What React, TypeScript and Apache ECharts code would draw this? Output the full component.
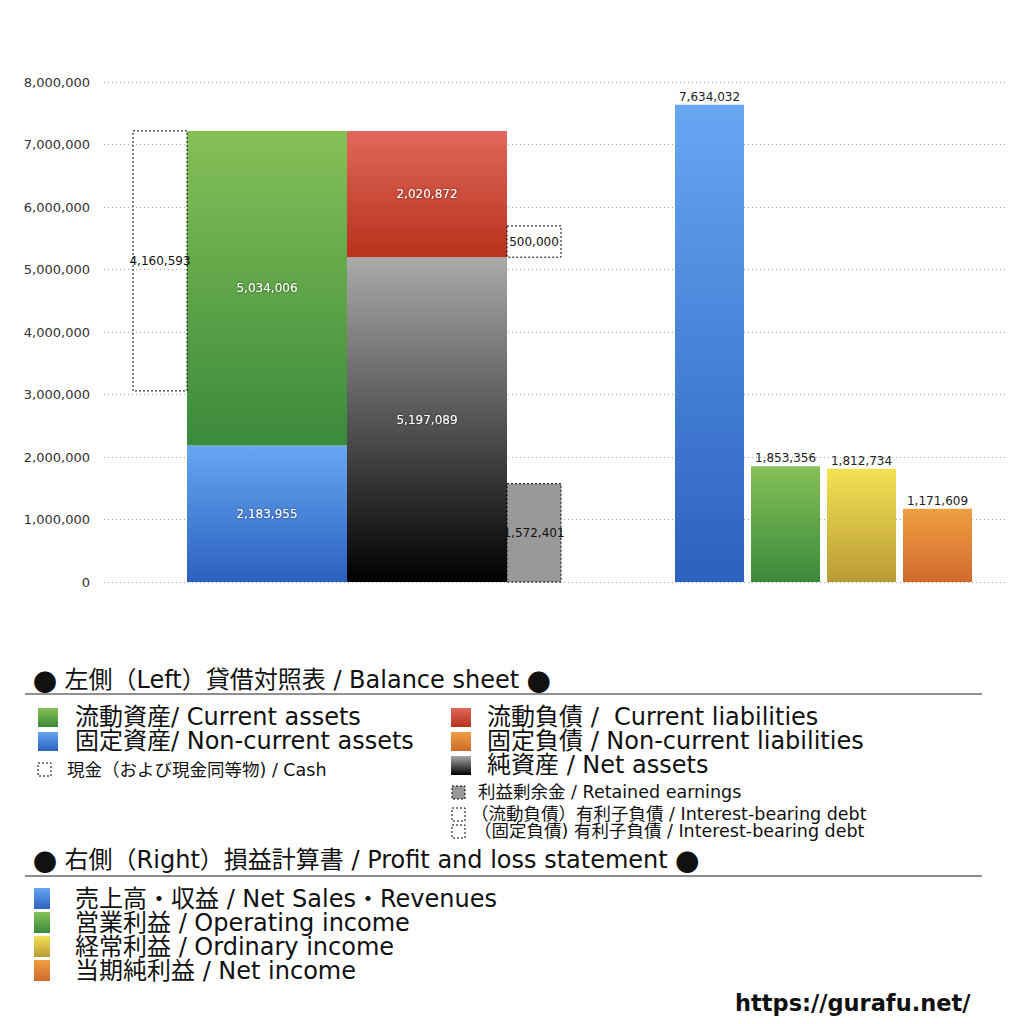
import * as echarts from 'echarts';
import { useEffect, useRef } from 'react';

// balance sheet (left)
const currentAssets = 5034006;
const nonCurrentAssets = 2183955;
const cash = 4160593;
const currentLiabilities = 2020872;
const netAssets = 5197089;
const currentInterestDebt = 500000;
const retainedEarnings = 1572401;

// profit and loss (right)
const plNames = ['売上高・収益', '営業利益', '経常利益', '当期純利益'];
const plValues = [7634032, 1853356, 1812734, 1171609];

const yTicks = [0, 1000000, 2000000, 3000000, 4000000, 5000000, 6000000, 7000000, 8000000];

const bsTitle = '● 左側（Left）貸借対照表 / Balance sheet ●';
const plTitle = '● 右側（Right）損益計算書 / Profit and loss statement ●';
const bsLegendLeft = ['流動資産/ Current assets', '固定資産/ Non-current assets'];
const bsLegendRight = ['流動負債 /  Current liabilities', '固定負債 / Non-current liabilities', '純資産 / Net assets'];
const bsLegendSmallLeft = ['現金（および現金同等物) / Cash'];
const bsLegendSmallRight = ['利益剰余金 / Retained earnings', '（流動負債）有利子負債 / Interest-bearing debt', '（固定負債) 有利子負債 / Interest-bearing debt'];
const plLegend = ['売上高・収益 / Net Sales・Revenues', '営業利益 / Operating income', '経常利益 / Ordinary income', '当期純利益 / Net income'];

const WIDE = '"DejaVu Sans", "Noto Sans CJK JP", sans-serif';
const CJK = '"Noto Sans CJK JP", sans-serif';

const grad = (top: string, bottom: string) =>
    new echarts.graphic.LinearGradient(0, 0, 0, 1, [
        { offset: 0, color: top },
        { offset: 1, color: bottom }
    ]);

const GREEN = ['#86c057', '#3a8a3b'];
const BLUE = ['#68a6f2', '#2b61bf'];
const RED = ['#e0685b', '#b7321b'];
const BLACK = ['#a9aaa9', '#000000'];
const ORANGE = ['#eea041', '#d2692d'];
const YELLOW = ['#f6e153', '#b89b36'];

const App = () => {
    const divRef = useRef<HTMLDivElement>(null);

    useEffect(() => {
        const chart = echarts.init(divRef.current!, null, { renderer: 'svg' });

        const totalAssets = currentAssets + nonCurrentAssets;
        // slots along a hidden x axis (grid units)
        const slot = {
            cash: [29, 83],
            assets: [83, 243],
            liab: [243, 403],
            side: [403, 457],
            pl: [[571, 640], [647, 716], [723, 792], [799, 868]]
        };

        type Mark = {
            x: number[]; y0: number; y1: number; value: number;
            fill: any; dashed?: boolean; labelColor: string; labelPos: string; shadow?: boolean;
        };
        const marks: Mark[] = [
            { x: slot.assets, y0: 0, y1: nonCurrentAssets, value: nonCurrentAssets, fill: grad(BLUE[0], BLUE[1]), labelColor: '#fff', labelPos: 'inside', shadow: true },
            { x: slot.assets, y0: nonCurrentAssets, y1: totalAssets, value: currentAssets, fill: grad(GREEN[0], GREEN[1]), labelColor: '#fff', labelPos: 'inside', shadow: true },
            { x: slot.cash, y0: totalAssets - cash, y1: totalAssets, value: cash, fill: 'rgba(255,255,255,0)', dashed: true, labelColor: '#111', labelPos: 'inside' },
            { x: slot.liab, y0: 0, y1: netAssets, value: netAssets, fill: grad(BLACK[0], BLACK[1]), labelColor: '#fff', labelPos: 'inside', shadow: true },
            { x: slot.liab, y0: netAssets, y1: netAssets + currentLiabilities, value: currentLiabilities, fill: grad(RED[0], RED[1]), labelColor: '#fff', labelPos: 'inside', shadow: true },
            { x: slot.side, y0: netAssets, y1: netAssets + currentInterestDebt, value: currentInterestDebt, fill: 'rgba(255,255,255,0)', dashed: true, labelColor: '#111', labelPos: 'inside' },
            { x: slot.side, y0: 0, y1: retainedEarnings, value: retainedEarnings, fill: '#999999', dashed: true, labelColor: '#111', labelPos: 'inside' }
        ];
        const plColors = [BLUE, GREEN, YELLOW, ORANGE];
        plValues.forEach((v, i) => {
            marks.push({ x: slot.pl[i], y0: 0, y1: v, value: v, fill: grad(plColors[i][0], plColors[i][1]), labelColor: '#222', labelPos: 'top' });
        });

        const graphics: any[] = [];
        const text = (x: number, y: number, t: string, size: number, lh: number, extra: any = {}) =>
            graphics.push({
                type: 'text', x, y,
                style: { text: t, fontSize: size, lineHeight: lh, fontFamily: WIDE, fill: '#111', verticalAlign: 'middle', ...extra }
            });
        const title = (x: number, y: number, t: string) =>
            text(x, y, t.split('●').join('{c|●}'), 24, 22, {
                rich: { c: { fontFamily: CJK, fontSize: 24, lineHeight: 22 } }
            });
        const box = (x: number, y: number, w: number, h: number, fill: any, dashed = false) =>
            graphics.push({
                type: 'rect', shape: { x, y, width: w, height: h },
                style: { fill, stroke: dashed ? '#000' : null, lineWidth: dashed ? 1 : 0, lineDash: dashed ? [2, 2] : null }
            });

        // balance sheet legend
        title(33, 680, bsTitle);
        graphics.push({ type: 'line', shape: { x1: 25, y1: 694, x2: 982, y2: 694 }, style: { stroke: '#222', lineWidth: 1 } });
        const bigLeft = [GREEN, BLUE];
        bsLegendLeft.forEach((t, i) => {
            box(38, 708 + i * 24, 20, 19, grad(bigLeft[i][0], bigLeft[i][1]));
            text(75, 717 + i * 24, t, 24, 22);
        });
        box(38, 763, 13, 13, 'rgba(255,255,255,0)', true);
        text(67, 770, bsLegendSmallLeft[0], 17.5, 16);
        const bigRight = [RED, ORANGE, BLACK];
        bsLegendRight.forEach((t, i) => {
            box(451, 708 + i * 24, 20, 19, grad(bigRight[i][0], bigRight[i][1]));
            text(487, 717 + i * 24, t, 24, 22);
        });
        box(452, 786, 13, 13, '#999999', true);
        text(478, 792, bsLegendSmallRight[0], 17.5, 16);
        box(452, 808, 13, 13, 'rgba(255,255,255,0)', true);
        text(471, 814, bsLegendSmallRight[1], 17.5, 16);
        box(452, 825, 13, 13, 'rgba(255,255,255,0)', true);
        text(474, 831, bsLegendSmallRight[2], 17.5, 16);

        // profit and loss legend
        title(33, 860, plTitle);
        graphics.push({ type: 'line', shape: { x1: 25, y1: 876, x2: 982, y2: 876 }, style: { stroke: '#666', lineWidth: 1.5 } });
        plLegend.forEach((t, i) => {
            box(34, 888 + i * 24, 16, 21, grad(plColors[i][0], plColors[i][1]));
            text(75, 899 + i * 24, t, 24, 22);
        });

        text(735, 1003, 'https://gurafu.net/', 22.5, 22, { fontWeight: 'bold', fontFamily: '"DejaVu Sans", sans-serif' });

        chart.setOption({
            animation: false,
            grid: { left: 104, right: 16, top: 82, bottom: 442 },
            xAxis: { type: 'value', min: 0, max: 904, show: false },
            yAxis: {
                type: 'value', min: yTicks[0], max: yTicks[yTicks.length - 1], interval: yTicks[1] - yTicks[0],
                axisLine: { show: false }, axisTick: { show: false },
                axisLabel: {
                    margin: 14, color: '#333', fontSize: 13, fontFamily: WIDE,
                    formatter: (v: number) => v.toLocaleString('en-US')
                },
                splitLine: { lineStyle: { type: [1, 3], color: '#aaa', width: 1 } }
            },
            series: [{
                type: 'custom',
                name: plNames.join(','),
                encode: { x: [0, 1], y: [2, 3] },
                data: marks.map(m => [m.x[0], m.x[1], m.y0, m.y1, m.value]),
                renderItem: (params: any, api: any) => {
                    const m = marks[params.dataIndex];
                    const p0 = api.coord([api.value(0), api.value(3)]);
                    const p1 = api.coord([api.value(1), api.value(2)]);
                    return {
                        type: 'rect',
                        shape: { x: p0[0], y: p0[1], width: p1[0] - p0[0], height: p1[1] - p0[1] },
                        style: {
                            fill: m.fill,
                            stroke: m.dashed ? '#000' : null,
                            lineWidth: m.dashed ? 1 : 0,
                            lineDash: m.dashed ? [2, 2] : null
                        },
                        textContent: {
                            style: {
                                text: m.value.toLocaleString('en-US'),
                                fill: m.labelColor, fontSize: 12, fontFamily: WIDE,
                                textShadowColor: m.shadow ? 'rgba(0,0,0,0.6)' : 'transparent',
                                textShadowBlur: m.shadow ? 2 : 0
                            }
                        },
                        textConfig: { position: m.labelPos, distance: 2 }
                    };
                }
            }],
            graphic: graphics
        });

        return () => {
            chart.dispose();
        };
    }, []);

    return (
        <div ref={divRef} style={{ position: 'absolute', left: 0, top: 0, width: '1024px', height: '1024px', background: '#fff' }}></div>
    );
};

export default App;
